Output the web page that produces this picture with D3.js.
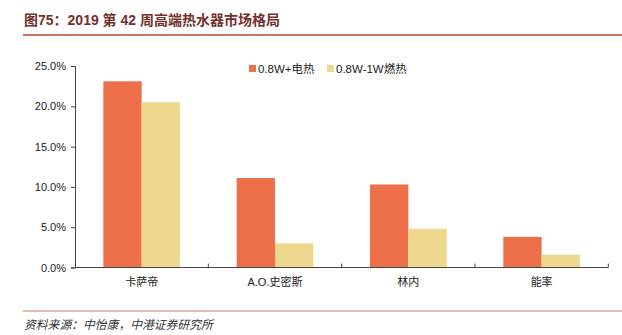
<!DOCTYPE html>
<html>
<head>
<meta charset="utf-8">
<script src="https://cdn.jsdelivr.net/npm/d3@7"></script>
<style>
  body { margin: 0; background: #fff; }
  svg { display: block; font-family: "Liberation Sans", Arial, "Noto Sans CJK SC", sans-serif; }
</style>
</head>
<body>
<div id="chart"></div>
<script>
const categories = ['卡萨帝', 'A.O.史密斯', '林内', '能率']
const seriesNames = ['0.8W+电热', '0.8W-1W燃热']
const elecValues = [23.1, 11.1, 10.3, 3.8]
const gasValues = [20.5, 3.0, 4.8, 1.6]
const yTicks = [0, 5, 10, 15, 20, 25]

const width = 622, height = 335
const margins = { top: 66, right: 14, bottom: 67.5, left: 75 }
const color = ['#ED6F49', '#EDD88D']

const svg = d3.select('#chart').append('svg')
    .attr('width', width)
    .attr('height', height)

// title + rules
svg.append('text')
    .attr('x', 24).attr('y', 25)
    .attr('fill', '#74302C')
    .attr('font-size', 14)
    .attr('font-weight', 'bold')
    .text('图75：2019 第 42 周高端热水器市场格局')
svg.append('line')
    .attr('x1', 23).attr('x2', 622).attr('y1', 35).attr('y2', 35)
    .attr('stroke', '#B9472B').attr('stroke-width', 1.3)
svg.append('line')
    .attr('x1', 23).attr('x2', 622).attr('y1', 311).attr('y2', 311)
    .attr('stroke', '#DCA592').attr('stroke-width', 1.3)
svg.append('text')
    .attr('x', 24).attr('y', 329)
    .attr('fill', '#333')
    .attr('font-size', 11.8)
    .attr('font-style', 'italic')
    .attr('font-family', '"Noto Sans CJK SC", sans-serif')
    .text('资料来源：中怡康，中港证券研究所')

const xScale = d3.scaleBand()
    .domain(categories)
    .range([margins.left, width - margins.right + 0.3])
    .paddingInner(0).paddingOuter(0)

const yScale = d3.scaleLinear()
    .domain([0, 25])
    .range([height - margins.bottom, margins.top])

const barW = xScale.bandwidth() * 0.2875
const data = [elecValues, gasValues]

data.forEach((vals, s) => {
    svg.append('g')
        .selectAll('rect')
        .data(vals)
        .join('rect')
        .attr('x', (d, i) => xScale(categories[i]) + xScale.bandwidth() / 2 - barW + s * barW)
        .attr('width', barW)
        .attr('y', d => yScale(d))
        .attr('height', d => yScale(0) - yScale(d))
        .attr('fill', color[s])
})

// axes
const yAxis = svg.append('g')
    .attr('transform', 'translate(' + margins.left + ',0)')
    .call(d3.axisLeft(yScale).tickValues(yTicks).tickSize(4).tickFormat(d => d.toFixed(1) + '%'))
yAxis.select('.domain').attr('stroke', '#444')
yAxis.selectAll('.tick line').attr('stroke', '#444')
yAxis.selectAll('text').attr('font-size', 11).attr('fill', '#222').attr('x', -9)

const xAxis = svg.append('g')
    .attr('transform', 'translate(0,' + yScale(0) + ')')
xAxis.append('line')
    .attr('x1', margins.left).attr('x2', xScale.range()[1])
    .attr('stroke', '#444')
const bounds = categories.map(c => xScale(c)).concat([xScale.range()[1]])
xAxis.selectAll('.xtick')
    .data(bounds.slice(1))
    .join('line')
    .attr('x1', d => d).attr('x2', d => d)
    .attr('y1', 0).attr('y2', -4)
    .attr('stroke', '#444')
xAxis.selectAll('.xlab')
    .data(categories)
    .join('text')
    .attr('x', d => xScale(d) + xScale.bandwidth() / 2)
    .attr('y', 18)
    .attr('text-anchor', 'middle')
    .attr('font-size', 11)
    .attr('fill', '#222')
    .text(d => d)

// legend
const legendX = [249, 327]
seriesNames.forEach((n, i) => {
    const g = svg.append('g').attr('transform', 'translate(' + legendX[i] + ',65)')
    g.append('rect').attr('width', 7).attr('height', 7).attr('fill', color[i])
    g.append('text').attr('x', 9).attr('y', 7.5)
        .attr('font-size', 11.5).attr('fill', '#222')
        .text(n)
})
</script>
</body>
</html>
